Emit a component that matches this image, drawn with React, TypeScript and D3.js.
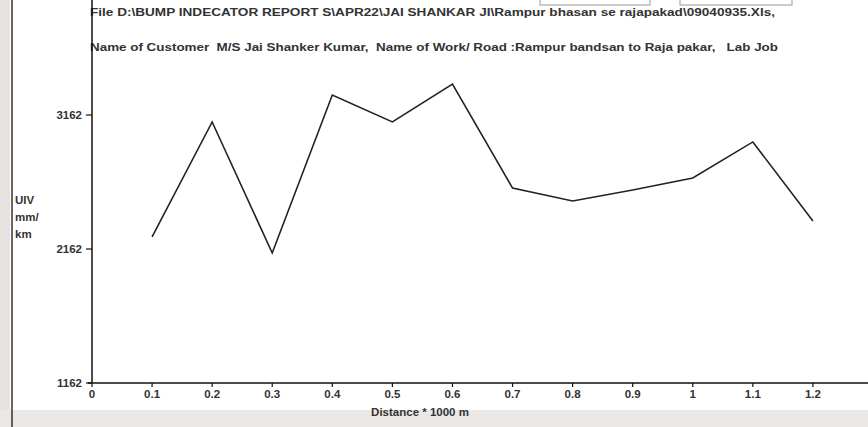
import React from "react";
import * as d3 from "d3";

const distances = [0.1, 0.2, 0.3, 0.4, 0.5, 0.6, 0.7, 0.8, 0.9, 1.0, 1.1, 1.2];
const uivValues = [2252, 3110, 2132, 3311, 3110, 3393, 2617, 2520, 2602, 2692, 2961, 2371];
const xTicks = [0, 0.1, 0.2, 0.3, 0.4, 0.5, 0.6, 0.7, 0.8, 0.9, 1, 1.1, 1.2];
const yTicks = [1162, 2162, 3162];
const titleLines = [
  "File D:\\BUMP INDECATOR REPORT S\\APR22\\JAI SHANKAR JI\\Rampur bhasan se rajapakad\\09040935.Xls,",
  "Name of Customer  M/S Jai Shanker Kumar,  Name of Work/ Road :Rampur bandsan to Raja pakar,   Lab Job",
];
const yLabel = ["UIV", "mm/", "km"];
const xTitle = "Distance * 1000 m";

export default function App() {
  const W = 868, H = 427;
  const x = d3.scaleLinear().domain([0, 1.3]).range([92, 873]);
  const y = d3.scaleLinear().domain([1162, 3162]).range([383, 115]);
  const line = d3
    .line<number>()
    .x((_, i) => x(distances[i]))
    .y((d) => y(d));
  const font = "'Liberation Sans', Arial, sans-serif";
  return (
    <svg
      width={W}
      height={H}
      style={{ position: "absolute", left: 0, top: 0, background: "#fff" }}
      fontFamily={font}
    >
      <rect x={0} y={0} width={W} height={H} fill="#fff" />
      <rect x={0} y={0} width={10} height={H} fill="#e6e2e0" />
      <rect x={0} y={410} width={W} height={17} fill="#ece8e6" />
      <line x1={12} x2={12} y1={0} y2={H} stroke="#333" strokeWidth={1.5} />
      <rect x={540} y={-10} width={110} height={15} fill="none" stroke="#999" />
      <rect x={680} y={-10} width={112} height={15} fill="none" stroke="#999" />
      {titleLines.map((t, i) => (
        <text
          key={i}
          x={90}
          y={i === 0 ? 16 : 51}
          fontSize={11.5}
          fontWeight="bold"
          fill="#333"
          textLength={i === 0 ? 685 : 688}
          lengthAdjust="spacingAndGlyphs"
          style={{ whiteSpace: "pre" }}
        >
          {t}
        </text>
      ))}
      <line x1={x(0)} x2={x(0)} y1={0} y2={y(1162)} stroke="#111" strokeWidth={1.5} />
      {yTicks.map((v) => (
        <g key={v}>
          <line x1={x(0) - 6} x2={x(0)} y1={y(v)} y2={y(v)} stroke="#111" strokeWidth={1.2} />
          <text x={x(0) - 10} y={y(v) + 4} textAnchor="end" fontSize={11.5} fontWeight="bold" fill="#333">
            {v}
          </text>
        </g>
      ))}
      {yLabel.map((t, i) => (
        <text key={t} x={15} y={204 + i * 17} fontSize={11.5} fontWeight="bold" fill="#333">
          {t}
        </text>
      ))}
      <line x1={x(0) - 4} x2={W} y1={y(1162)} y2={y(1162)} stroke="#111" strokeWidth={1.5} />
      {xTicks.map((v) => (
        <g key={v}>
          <line x1={x(v)} x2={x(v)} y1={y(1162)} y2={y(1162) + 4} stroke="#111" strokeWidth={1.2} />
          <text x={x(v)} y={y(1162) + 15} textAnchor="middle" fontSize={11.5} fontWeight="bold" fill="#333">
            {String(v)}
          </text>
        </g>
      ))}
      <text x={420} y={416} textAnchor="middle" fontSize={11.5} fontWeight="bold" fill="#333">
        {xTitle}
      </text>
      <path d={line(uivValues) || ""} fill="none" stroke="#222" strokeWidth={1.6} />
    </svg>
  );
}
